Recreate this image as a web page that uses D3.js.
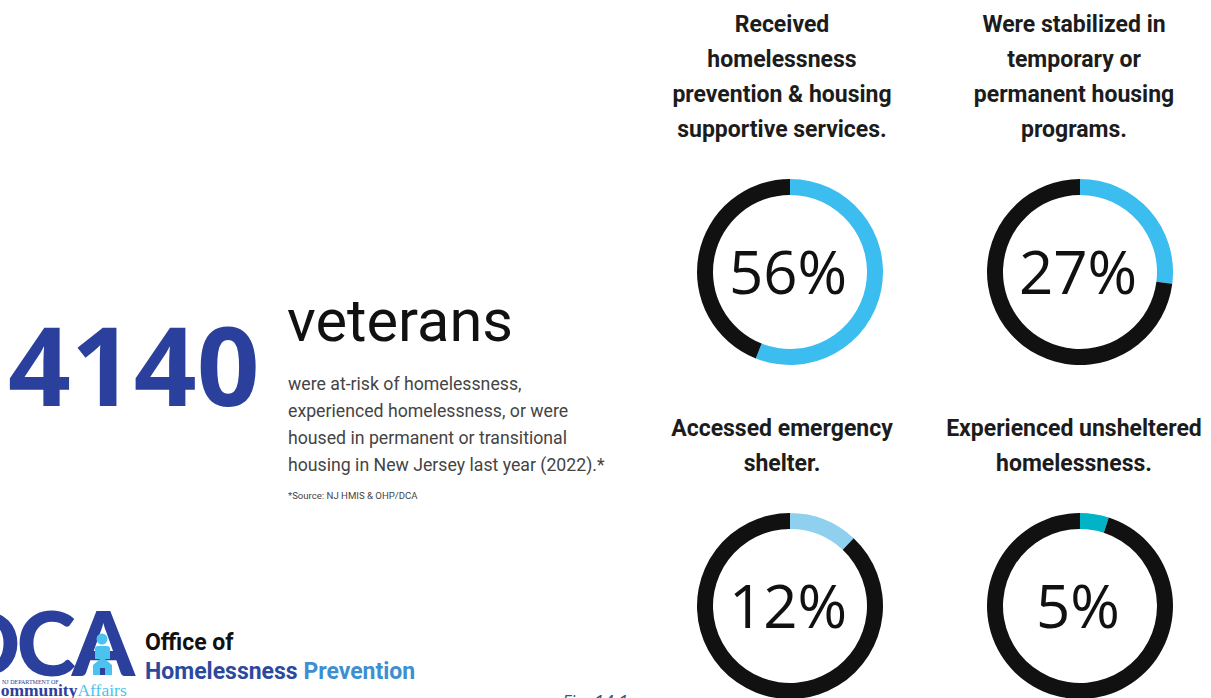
<!DOCTYPE html>
<html>
<head>
<meta charset="utf-8">
<script src="https://cdn.jsdelivr.net/npm/d3@7"></script>
<style>
  html, body { margin: 0; padding: 0; background: #fff; }
  svg { display: block; }
</style>
</head>
<body>
<svg id="chart" width="1211" height="698"></svg>
<script>
// ---- data ----
const categories = [
  ["Received", "homelessness", "prevention & housing", "supportive services."],
  ["Were stabilized in", "temporary or", "permanent housing", "programs."],
  ["Accessed emergency", "shelter."],
  ["Experienced unsheltered", "homelessness."]
];
const percentValues = [56, 27, 12, 5];
const ringColors = ["#3bbdef", "#3bbdef", "#8fd0ef", "#00b3c6"];
const headlineNumber = "4140";
const headlineWord = "veterans";
const descriptionLines = [
  "were at-risk of homelessness,",
  "experienced homelessness, or were",
  "housed in permanent or transitional",
  "housing in New Jersey last year (2022).*"
];
const sourceNote = "*Source: NJ HMIS & OHP/DCA";

// ---- layout ----
const W = 1211, H = 698;
const svg = d3.select("#chart");
svg.append("rect").attr("width", W).attr("height", H).attr("fill", "#fff");

const colX = d3.scaleOrdinal().domain([0, 1]).range([790, 1080]);
const rowY = d3.scaleOrdinal().domain([0, 1]).range([272, 606]);
const headerX = d3.scaleOrdinal().domain([0, 1]).range([782, 1074]);
const headerTop = [32, 436];
const lineStep = 35;

const outerR = 93, innerR = 77;
const pie = d3.pie().sort(null).value(d => d).startAngle(0).endAngle(2 * Math.PI);
const arc = d3.arc().innerRadius(innerR).outerRadius(outerR);

percentValues.forEach((v, i) => {
  const col = i % 2, row = Math.floor(i / 2);

  // header text
  const hdr = svg.append("text")
    .attr("font-family", "Roboto, 'Noto Sans', sans-serif")
    .attr("font-weight", 700)
    .attr("font-size", 23)
    .attr("fill", "#1c1c1c")
    .attr("text-anchor", "middle");
  categories[i].forEach((line, k) => {
    hdr.append("tspan")
      .attr("x", headerX(col))
      .attr("y", headerTop[row] + k * lineStep)
      .text(line);
  });

  // donut ring
  const g = svg.append("g").attr("transform", `translate(${colX(col)},${rowY(row)})`);
  g.selectAll("path")
    .data(pie([v, 100 - v]))
    .join("path")
    .attr("d", arc)
    .attr("fill", (d, k) => k === 0 ? ringColors[i] : "#111");

  g.append("text")
    .attr("x", -2)
    .attr("text-anchor", "middle")
    .attr("dy", "0.36em")
    .attr("font-family", "'Open Sans', sans-serif")
    .attr("font-size", 60)
    .attr("fill", "#111")
    .text(v + "%");
});

// ---- headline block ----
svg.append("text")
  .attr("x", 8).attr("y", 406)
  .attr("font-family", "'Open Sans', sans-serif")
  .attr("font-weight", 700)
  .attr("font-size", 110)
  .attr("fill", "#2b3f9c")
  .text(headlineNumber);

svg.append("text")
  .attr("x", 287).attr("y", 341)
  .attr("font-family", "Roboto, sans-serif")
  .attr("font-size", 59.5)
  .attr("fill", "#111")
  .text(headlineWord);

const desc = svg.append("text")
  .attr("font-family", "Roboto, sans-serif")
  .attr("font-size", 17.7)
  .attr("fill", "#444");
descriptionLines.forEach((line, k) => {
  desc.append("tspan").attr("x", 288).attr("y", 390 + k * 27).text(line);
});

svg.append("text")
  .attr("x", 288).attr("y", 499)
  .attr("font-family", "Roboto, sans-serif")
  .attr("font-size", 9.6)
  .attr("fill", "#444")
  .text(sourceNote);

// ---- DCA logo ----
const logo = svg.append("g");
logo.append("text")
  .attr("x", 131).attr("y", 676)
  .attr("text-anchor", "end")
  .attr("font-family", "Lato, 'Open Sans', sans-serif")
  .attr("font-weight", 900)
  .attr("font-size", 90)
  .attr("letter-spacing", -4)
  .attr("fill", "#2b3f9c")
  .text("DCA");
// person-in-house icon inside the A
const icon = logo.append("g").attr("fill", "#4cc3ef");
icon.append("circle").attr("cx", 102).attr("cy", 639).attr("r", 5.5);
icon.append("path").attr("d", "M95,659 L95,649 Q95,646 98,646 L107,646 Q110,646 110,649 L110,659 Z");
icon.append("path").attr("d", "M93,675 L93,665 L102.5,657 L112,665 L112,675 Z");
logo.append("rect").attr("x", 100).attr("y", 668).attr("width", 5).attr("height", 7).attr("fill", "#2b3f9c");

logo.append("text")
  .attr("x", 2).attr("y", 684)
  .attr("font-family", "'Liberation Serif', serif")
  .attr("font-size", 6)
  .attr("fill", "#2b3f9c")
  .text("NJ DEPARTMENT OF");
const cw = logo.append("text")
  .attr("x", -12).attr("y", 696)
  .attr("font-family", "'Liberation Serif', serif")
  .attr("font-weight", 700)
  .attr("font-size", 17.5)
  .attr("fill", "#2b3f9c");
cw.append("tspan").text("Community");
cw.append("tspan").attr("fill", "#4cc3ef").attr("font-weight", 400).text("Affairs");

svg.append("text")
  .attr("x", 145).attr("y", 650)
  .attr("font-family", "Roboto, sans-serif")
  .attr("font-weight", 700)
  .attr("font-size", 23)
  .attr("fill", "#111")
  .text("Office of");
const ohp = svg.append("text")
  .attr("x", 145).attr("y", 679)
  .attr("font-family", "Roboto, sans-serif")
  .attr("font-weight", 700)
  .attr("font-size", 23);
ohp.append("tspan").attr("fill", "#2b4a9e").text("Homelessness ");
ohp.append("tspan").attr("fill", "#3d8fd1").text("Prevention");

// ---- figure caption ----
svg.append("text")
  .attr("x", 562).attr("y", 708)
  .attr("font-family", "'Open Sans', sans-serif")
  .attr("font-style", "italic")
  .attr("font-size", 18)
  .attr("fill", "#1f5d8a")
  .text("Fig. 14.1");
</script>
</body>
</html>
